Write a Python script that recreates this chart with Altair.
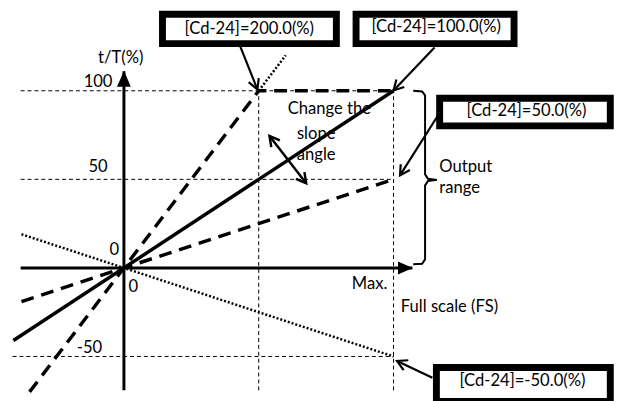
import math
import altair as alt
import pandas as pd

# ---- coordinate frame (x = % of full scale, y = t/T %) ----
X_DOMAIN = [-43.0, 184.0]
Y_DOMAIN = [-73.7, 145.3]
W, H = 620, 393
SX = W / (X_DOMAIN[1] - X_DOMAIN[0])
SY = H / (Y_DOMAIN[1] - Y_DOMAIN[0])

FONT = "Lato"
FS = 16.8

# ---- characteristic lines ----
line_100_x = [-41, 100]
line_100_y = [-41, 100]
line_200_x = [-35, 50, 100]
line_200_y = [-70, 100, 100]
line_200_ext_x = [50, 60]
line_200_ext_y = [100, 120]
line_50_x = [-38, 100]
line_50_y = [-19, 50]
line_m50_x = [-38, 100]
line_m50_y = [19, -50]

# ---- thin dashed guides ----
guide_h_y = [100, 50, -50]
guide_h_x0 = [-38.3, -38.3, -41.3]
guide_h_x1 = [100, 100, 100]
guide_v_x = [50, 100]
guide_v_y0 = [-69.1, -69.1]
guide_v_y1 = [100, 100]

# ---- axes ----
axis_v = dict(x=0, y0=-69.1, y1=111.0)
axis_h = dict(y=0, x0=-38.3, x1=107.0)
head_x = [0, 104.4]
head_y = [106.8, 0]
head_shape = ["M0,-1L0.875,1L-0.875,1Z", "M1,0L-1,-0.875L-1,0.875Z"]
head_size = [256, 225]

# ---- callout boxes ----
box_labels = ["[Cd-24]=200.0(%)", "[Cd-24]=100.0(%)", "[Cd-24]=50.0(%)", "[Cd-24]=-50.0(%)"]
box_x0 = [14.3, 86.1, 117.1, 115.9]
box_x1 = [78.8, 144.7, 180.4, 180.4]
box_y0 = [126.6, 126.6, 80.2, -56.2]
box_y1 = [143.2, 143.2, 95.8, -75.4]
box_tx = [46.5, 115.8, 149.3, 147.8]
box_ty = [134.9, 135.8, 88.4, -63.9]
# callout arrows: tail -> tip
arr_x0 = [43.1, 115.2, 117.0, 114.4]
arr_y0 = [125.2, 124.5, 87.3, -62.0]
arr_x1 = [49.5, 100.0, 102.4, 101.3]
arr_y1 = [100.8, 100.2, 52.2, -52.5]

# ---- slope double arrow ----
dbl_x = [54.0, 67.6]
dbl_y = [74.5, 47.8]

# ---- brace (output range) ----
brace_x = [107.3, 110.6, 111.7, 111.7, 112.8, 116.1, 112.8, 111.7, 111.7, 110.6, 107.3]
brace_y = [100.0, 99.6, 97.4, 52.8, 50.3, 49.7, 49.1, 46.6, 4.8, 2.3, 2.1]

# ---- texts ----
lab_text = ["t/T(%)", "100", "50", "0", "0", "-50", "Max."]
lab_x = [-1.2, -9.6, -9.6, -3.6, 3.5, -12.8, 91.1]
lab_y = [118.2, 105.2, 56.8, 10.0, -10.9, -45.3, -9.1]
left_text = ["Full scale (FS)", "Output", "range"]
left_x = [102.7, 117.0, 117.0]
left_y = [-22.1, 56.8, 44.8]
slope_text = ["Change the", "slope", "angle"]
slope_x = [76.2, 71.3, 71.3]
slope_y = [89.4, 75.4, 63.9]

xs = alt.Scale(domain=X_DOMAIN, nice=False, zero=False)
ys = alt.Scale(domain=Y_DOMAIN, nice=False, zero=False)


def X(f="x"):
    return alt.X(f"{f}:Q", scale=xs, axis=None)


def Y(f="y"):
    return alt.Y(f"{f}:Q", scale=ys, axis=None)


def angle_of(x0, y0, x1, y1):
    dx = (x1 - x0) * SX
    dy = -(y1 - y0) * SY
    return math.degrees(math.atan2(dx, -dy)) % 360


def polyline(xv, yv, **mk):
    df = pd.DataFrame({"x": xv, "y": yv, "o": list(range(len(xv)))})
    return alt.Chart(df).mark_line(color="black", **mk).encode(
        x=X(), y=Y(), order=alt.Order("o:Q"))


layers = []

# guides
gh = pd.DataFrame({"y": guide_h_y, "x": guide_h_x0, "x2": guide_h_x1})
layers.append(alt.Chart(gh).mark_rule(color="black", strokeWidth=1, strokeDash=[4, 3]).encode(
    x=X(), x2="x2:Q", y=Y()))
gv = pd.DataFrame({"x": guide_v_x, "y": guide_v_y0, "y2": guide_v_y1})
layers.append(alt.Chart(gv).mark_rule(color="black", strokeWidth=1, strokeDash=[4, 3]).encode(
    x=X(), y=Y(), y2="y2:Q"))

# slope text (under the lines)
st = pd.DataFrame({"t": slope_text, "x": slope_x, "y": slope_y})
layers.append(alt.Chart(st).mark_text(font=FONT, fontSize=FS, color="black", align="center",
                                      baseline="middle").encode(x=X(), y=Y(), text="t:N"))

# brace
layers.append(polyline(brace_x, brace_y, strokeWidth=2))

# characteristic lines
layers.append(polyline(line_200_x, line_200_y, strokeWidth=3.5, strokeDash=[13, 8]))
layers.append(polyline(line_50_x, line_50_y, strokeWidth=3.5, strokeDash=[13, 8]))
layers.append(polyline(line_200_ext_x, line_200_ext_y, strokeWidth=2.5, strokeDash=[2, 2]))
layers.append(polyline(line_m50_x, line_m50_y, strokeWidth=2.5, strokeDash=[2, 2]))
layers.append(polyline(line_100_x, line_100_y, strokeWidth=3.5))

# axes
av = pd.DataFrame({"x": [axis_v["x"]], "y": [axis_v["y0"]], "y2": [axis_v["y1"]]})
layers.append(alt.Chart(av).mark_rule(color="black", strokeWidth=3).encode(x=X(), y=Y(), y2="y2:Q"))
ah = pd.DataFrame({"y": [axis_h["y"]], "x": [axis_h["x0"]], "x2": [axis_h["x1"]]})
layers.append(alt.Chart(ah).mark_rule(color="black", strokeWidth=3).encode(x=X(), x2="x2:Q", y=Y()))
for hx, hy, hs, hz in zip(head_x, head_y, head_shape, head_size):
    hd = pd.DataFrame({"x": [hx], "y": [hy]})
    layers.append(alt.Chart(hd).mark_point(shape=hs, size=hz, filled=True, color="black",
                                           opacity=1).encode(x=X(), y=Y()))

# double arrow for slope
layers.append(polyline(dbl_x, dbl_y, strokeWidth=2.5))
dh = pd.DataFrame({
    "x": [dbl_x[0], dbl_x[1]], "y": [dbl_y[0], dbl_y[1]],
    "a": [angle_of(dbl_x[1], dbl_y[1], dbl_x[0], dbl_y[0]),
          angle_of(dbl_x[0], dbl_y[0], dbl_x[1], dbl_y[1])]})
OPEN_HEAD = "M-0.55,1L0,0L0.55,1"
layers.append(alt.Chart(dh).mark_point(shape=OPEN_HEAD, size=400, filled=False, color="black",
                                       strokeWidth=2.5, opacity=1).encode(
    x=X(), y=Y(), angle=alt.Angle("a:Q", scale=None)))

# callout arrows
for i in range(len(box_labels)):
    layers.append(polyline([arr_x0[i], arr_x1[i]], [arr_y0[i], arr_y1[i]], strokeWidth=2.2))
ch = pd.DataFrame({"x": arr_x1, "y": arr_y1,
                   "a": [angle_of(a, b, c, d) for a, b, c, d in zip(arr_x0, arr_y0, arr_x1, arr_y1)]})
layers.append(alt.Chart(ch).mark_point(shape=OPEN_HEAD, size=400, filled=False, color="black",
                                       strokeWidth=2.2, opacity=1).encode(
    x=X(), y=Y(), angle=alt.Angle("a:Q", scale=None)))

# boxes
bx = pd.DataFrame({"x": box_x0, "x2": box_x1, "y": box_y0, "y2": box_y1})
layers.append(alt.Chart(bx).mark_rect(fill="white", stroke="black", strokeWidth=7).encode(
    x=X(), x2="x2:Q", y=Y(), y2="y2:Q"))
bt = pd.DataFrame({"t": box_labels, "x": box_tx, "y": box_ty})
layers.append(alt.Chart(bt).mark_text(font=FONT, fontSize=FS, color="black", align="center",
                                      baseline="middle").encode(x=X(), y=Y(), text="t:N"))

# axis labels and notes
lt = pd.DataFrame({"t": lab_text, "x": lab_x, "y": lab_y})
layers.append(alt.Chart(lt).mark_text(font=FONT, fontSize=FS, color="black", align="center",
                                      baseline="middle").encode(x=X(), y=Y(), text="t:N"))
lf = pd.DataFrame({"t": left_text, "x": left_x, "y": left_y})
layers.append(alt.Chart(lf).mark_text(font=FONT, fontSize=FS, color="black", align="left",
                                      baseline="middle").encode(x=X(), y=Y(), text="t:N"))

chart = alt.layer(*layers).properties(
    width=W, height=H, padding=0, autosize=alt.AutoSizeParams(type="none"),
    background="white"
).configure_view(stroke=None)

chart.save("out.html", embed_options={"renderer": "svg", "actions": False})
